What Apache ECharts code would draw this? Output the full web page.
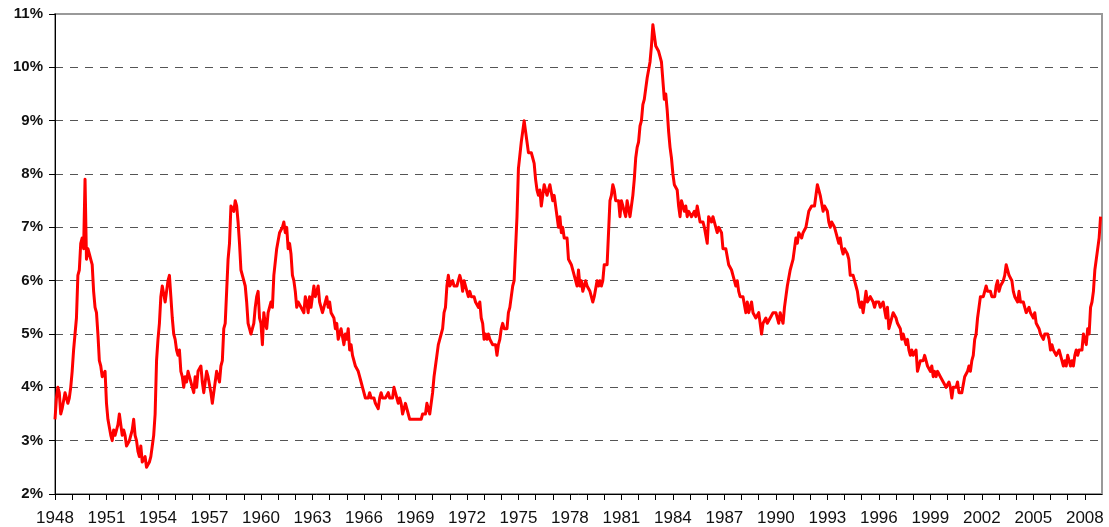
<!DOCTYPE html>
<html>
<head>
<meta charset="utf-8">
<script src="https://cdn.jsdelivr.net/npm/echarts@6/dist/echarts.min.js"></script>
<style>
  html, body { margin: 0; padding: 0; background: #ffffff; }
  #chart { width: 1109px; height: 527px; }
</style>
</head>
<body>
<div id="chart"></div>
<script>
// Monthly unemployment rate (%), Jan 1948 – Dec 2008, one row per year
const startYear = 1948;
const monthlyRate = [
  3.4, 3.8, 4.0, 3.9, 3.5, 3.6, 3.6, 3.9, 3.8, 3.7, 3.8, 4.0,   // 1948
  4.3, 4.7, 5.0, 5.3, 6.1, 6.2, 6.7, 6.8, 6.6, 7.9, 6.4, 6.6,   // 1949
  6.5, 6.4, 6.3, 5.8, 5.5, 5.4, 5.0, 4.5, 4.4, 4.2, 4.2, 4.3,   // 1950
  3.7, 3.4, 3.4, 3.1, 3.0, 3.2, 3.1, 3.1, 3.3, 3.5, 3.5, 3.1,   // 1951
  3.2, 3.1, 2.9, 2.9, 3.0, 3.0, 3.2, 3.4, 3.1, 3.0, 2.8, 2.7,   // 1952
  2.9, 2.6, 2.6, 2.7, 2.5, 2.5, 2.6, 2.7, 2.9, 3.1, 3.5, 4.5,   // 1953
  4.9, 5.2, 5.7, 5.9, 5.9, 5.6, 5.8, 6.0, 6.1, 5.7, 5.3, 5.0,   // 1954
  4.9, 4.7, 4.6, 4.7, 4.3, 4.2, 4.0, 4.2, 4.1, 4.3, 4.2, 4.2,   // 1955
  4.0, 3.9, 4.2, 4.0, 4.3, 4.3, 4.4, 4.1, 3.9, 3.9, 4.3, 4.2,   // 1956
  4.2, 3.9, 3.7, 3.9, 4.1, 4.3, 4.2, 4.1, 4.4, 4.5, 5.1, 5.2,   // 1957
  5.8, 6.4, 6.7, 7.4, 7.4, 7.3, 7.5, 7.4, 7.1, 6.7, 6.2, 6.2,   // 1958
  6.0, 5.9, 5.6, 5.2, 5.1, 5.0, 5.1, 5.2, 5.5, 5.7, 5.8, 5.3,   // 1959
  5.2, 4.8, 5.4, 5.2, 5.1, 5.4, 5.5, 5.6, 5.5, 6.1, 6.1, 6.6,   // 1960
  6.6, 6.9, 6.9, 7.0, 7.1, 6.9, 7.0, 6.6, 6.7, 6.5, 6.1, 6.0,   // 1961
  5.8, 5.5, 5.6, 5.6, 5.5, 5.5, 5.4, 5.7, 5.6, 5.4, 5.7, 5.5,   // 1962
  5.7, 5.9, 5.7, 5.7, 5.9, 5.6, 5.6, 5.4, 5.5, 5.5, 5.7, 5.5,   // 1963
  5.6, 5.4, 5.4, 5.3, 5.1, 5.2, 4.9, 5.0, 5.1, 5.1, 4.8, 5.0,   // 1964
  4.9, 5.1, 4.7, 4.8, 4.6, 4.6, 4.4, 4.4, 4.3, 4.2, 4.1, 4.0,   // 1965
  4.0, 3.8, 3.8, 3.8, 3.9, 3.8, 3.8, 3.8, 3.7, 3.7, 3.6, 3.8,   // 1966
  3.9, 3.8, 3.8, 3.8, 3.8, 3.9, 3.8, 3.8, 3.8, 4.0, 3.9, 3.8,   // 1967
  3.7, 3.8, 3.7, 3.5, 3.5, 3.7, 3.7, 3.5, 3.4, 3.4, 3.4, 3.4,   // 1968
  3.4, 3.4, 3.4, 3.4, 3.4, 3.5, 3.5, 3.5, 3.7, 3.7, 3.5, 3.5,   // 1969
  3.9, 4.2, 4.4, 4.6, 4.8, 4.9, 5.0, 5.1, 5.4, 5.5, 5.9, 6.1,   // 1970
  5.9, 5.9, 6.0, 5.9, 5.9, 5.9, 6.0, 6.1, 6.0, 5.8, 6.0, 6.0,   // 1971
  5.8, 5.7, 5.8, 5.7, 5.7, 5.7, 5.6, 5.6, 5.5, 5.6, 5.3, 5.2,   // 1972
  4.9, 5.0, 4.9, 5.0, 4.9, 4.9, 4.8, 4.8, 4.8, 4.6, 4.8, 4.9,   // 1973
  5.1, 5.2, 5.1, 5.1, 5.1, 5.4, 5.5, 5.5, 5.9, 6.0, 6.6, 7.2,   // 1974
  8.1, 8.1, 8.6, 8.8, 9.0, 8.8, 8.6, 8.4, 8.4, 8.4, 8.3, 8.2,   // 1975
  7.9, 7.7, 7.6, 7.7, 7.4, 7.6, 7.8, 7.8, 7.6, 7.7, 7.8, 7.8,   // 1976
  7.5, 7.6, 7.4, 7.2, 7.0, 7.2, 6.9, 7.0, 6.8, 6.8, 6.8, 6.4,   // 1977
  6.4, 6.3, 6.3, 6.1, 6.0, 5.9, 6.2, 5.9, 6.0, 5.8, 5.9, 6.0,   // 1978
  5.9, 5.9, 5.8, 5.8, 5.6, 5.7, 5.7, 6.0, 5.9, 6.0, 5.9, 6.0,   // 1979
  6.3, 6.3, 6.3, 6.9, 7.5, 7.6, 7.8, 7.7, 7.5, 7.5, 7.5, 7.2,   // 1980
  7.5, 7.4, 7.4, 7.2, 7.5, 7.5, 7.2, 7.4, 7.6, 7.9, 8.3, 8.5,   // 1981
  8.6, 8.9, 9.0, 9.3, 9.4, 9.6, 9.8, 9.8, 10.1, 10.4, 10.8, 10.8, // 1982
  10.4, 10.4, 10.3, 10.2, 10.1, 10.1, 9.4, 9.5, 9.2, 8.8, 8.5, 8.3, // 1983
  8.0, 7.8, 7.8, 7.7, 7.4, 7.2, 7.5, 7.5, 7.3, 7.4, 7.2, 7.3,   // 1984
  7.3, 7.2, 7.2, 7.3, 7.2, 7.4, 7.4, 7.1, 7.1, 7.1, 7.0, 7.0,   // 1985
  6.7, 7.2, 7.2, 7.1, 7.2, 7.2, 7.0, 6.9, 7.0, 7.0, 6.9, 6.6,   // 1986
  6.6, 6.6, 6.6, 6.3, 6.3, 6.2, 6.1, 6.0, 5.9, 6.0, 5.8, 5.7,   // 1987
  5.7, 5.7, 5.7, 5.4, 5.6, 5.4, 5.4, 5.6, 5.4, 5.4, 5.3, 5.3,   // 1988
  5.4, 5.2, 5.0, 5.2, 5.2, 5.3, 5.2, 5.2, 5.3, 5.3, 5.4, 5.4,   // 1989
  5.4, 5.3, 5.2, 5.4, 5.4, 5.2, 5.5, 5.7, 5.9, 5.9, 6.2, 6.3,   // 1990
  6.4, 6.6, 6.8, 6.7, 6.9, 6.9, 6.8, 6.9, 6.9, 7.0, 7.0, 7.3,   // 1991
  7.3, 7.4, 7.4, 7.4, 7.6, 7.8, 7.7, 7.6, 7.6, 7.3, 7.4, 7.4,   // 1992
  7.3, 7.1, 7.0, 7.1, 7.1, 7.0, 6.9, 6.8, 6.7, 6.8, 6.6, 6.5,   // 1993
  6.6, 6.6, 6.5, 6.4, 6.1, 6.1, 6.1, 6.0, 5.9, 5.8, 5.6, 5.5,   // 1994
  5.6, 5.4, 5.4, 5.8, 5.6, 5.6, 5.7, 5.7, 5.6, 5.5, 5.6, 5.6,   // 1995
  5.6, 5.5, 5.5, 5.6, 5.6, 5.3, 5.5, 5.1, 5.2, 5.2, 5.4, 5.4,   // 1996
  5.3, 5.2, 5.2, 5.1, 4.9, 5.0, 4.9, 4.8, 4.9, 4.7, 4.6, 4.7,   // 1997
  4.6, 4.6, 4.7, 4.3, 4.4, 4.5, 4.5, 4.5, 4.6, 4.5, 4.4, 4.4,   // 1998
  4.3, 4.4, 4.2, 4.3, 4.2, 4.3, 4.3, 4.2, 4.2, 4.1, 4.1, 4.0,   // 1999
  4.0, 4.1, 4.0, 3.8, 4.0, 4.0, 4.0, 4.1, 3.9, 3.9, 3.9, 3.9,   // 2000
  4.2, 4.2, 4.3, 4.4, 4.3, 4.5, 4.6, 4.9, 5.0, 5.3, 5.5, 5.7,   // 2001
  5.7, 5.7, 5.7, 5.9, 5.8, 5.8, 5.8, 5.7, 5.7, 5.7, 5.9, 6.0,   // 2002
  5.8, 5.9, 5.9, 6.0, 6.1, 6.3, 6.2, 6.1, 6.1, 6.0, 5.8, 5.7,   // 2003
  5.7, 5.6, 5.8, 5.6, 5.6, 5.6, 5.5, 5.4, 5.4, 5.5, 5.4, 5.4,   // 2004
  5.3, 5.4, 5.2, 5.2, 5.1, 5.0, 5.0, 4.9, 5.0, 5.0, 5.0, 4.9,   // 2005
  4.7, 4.8, 4.7, 4.7, 4.6, 4.6, 4.7, 4.7, 4.5, 4.4, 4.5, 4.4,   // 2006
  4.6, 4.5, 4.4, 4.5, 4.4, 4.6, 4.7, 4.6, 4.7, 4.7, 4.7, 5.0,   // 2007
  4.9, 4.8, 5.1, 5.0, 5.5, 5.6, 5.8, 6.2, 6.2, 6.6, 6.8, 7.2    // 2008
];
const yTicks = [2, 3, 4, 5, 6, 7, 8, 9, 10, 11];
const labelEveryYears = 3;

// x is measured in years since Jan 1948 (month index / 12)
const seriesData = monthlyRate.map((v, i) => [i / 12, v]);

const chart = echarts.init(document.getElementById('chart'), null, { renderer: 'canvas' });
chart.setOption({
  animation: false,
  backgroundColor: '#ffffff',
  grid: {
    left: 55, right: 7, top: 14, bottom: 33,
    show: true, borderColor: '#999999', borderWidth: 2, backgroundColor: 'transparent'
  },
  xAxis: {
    type: 'value',
    min: 0, max: 61, interval: 1,
    axisLine: { show: true, lineStyle: { color: '#000000', width: 1 } },
    axisTick: { show: true, inside: false, length: 6, lineStyle: { color: '#000000', width: 1 } },
    axisLabel: {
      showMaxLabel: false,
      margin: 16,
      fontFamily: 'Liberation Sans, Arial, sans-serif',
      fontSize: 17,
      color: '#111111',
      formatter: v => (Math.round(v) % labelEveryYears === 0 && v <= 60) ? String(startYear + Math.round(v)) : ''
    },
    splitLine: { show: false }
  },
  yAxis: {
    type: 'value',
    min: yTicks[0], max: yTicks[yTicks.length - 1], interval: 1,
    axisLine: { show: true, lineStyle: { color: '#000000', width: 1 } },
    axisTick: { show: true, inside: false, length: 6, lineStyle: { color: '#000000', width: 1 } },
    axisLabel: {
      margin: 12,
      fontFamily: 'Liberation Sans, Arial, sans-serif',
      fontSize: 15,
      fontWeight: 'bold',
      color: '#111111',
      formatter: '{value}%'
    },
    splitLine: {
      show: true,
      showMinLine: false,
      showMaxLine: false,
      lineStyle: { color: '#555555', width: 1, type: [8, 7] }
    }
  },
  series: [{
    type: 'line',
    data: seriesData,
    showSymbol: false,
    symbol: 'none',
    lineStyle: { color: '#ff0000', width: 3, join: 'round' },
    itemStyle: { color: '#ff0000' },
    z: 5
  }]
});
</script>
</body>
</html>
